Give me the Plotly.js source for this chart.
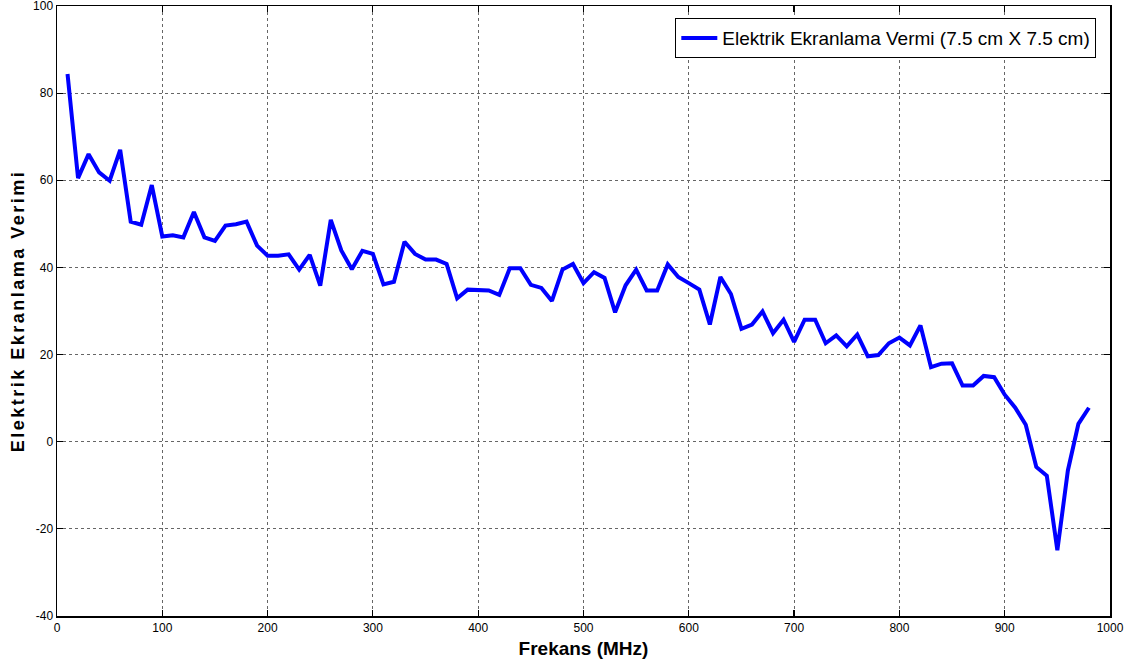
<!DOCTYPE html>
<html>
<head>
<meta charset="utf-8">
<script src="https://cdn.plot.ly/plotly-3.0.1.min.js"></script>
<style>
  html, body { margin: 0; padding: 0; background: #fff; }
  #chart { width: 1143px; height: 671px; }
  /* widen the vertical axis title */
  #chart .ytitle { letter-spacing: 2.5px; }
</style>
</head>
<body>
<div id="chart"></div>
<script>
// Frequency sweep (MHz) and measured electric shielding effectiveness (dB)
const frequency = [
  10, 20, 30, 40, 50, 60, 70, 80, 90, 100,
  110, 120, 130, 140, 150, 160, 170, 180, 190, 200,
  210, 220, 230, 240, 250, 260, 270, 280, 290, 300,
  310, 320, 330, 340, 350, 360, 370, 380, 390, 400,
  410, 420, 430, 440, 450, 460, 470, 480, 490, 500,
  510, 520, 530, 540, 550, 560, 570, 580, 590, 600,
  610, 620, 630, 640, 650, 660, 670, 680, 690, 700,
  710, 720, 730, 740, 750, 760, 770, 780, 790, 800,
  810, 820, 830, 840, 850, 860, 870, 880, 890, 900,
  910, 920, 930, 940, 950, 960, 970, 980
];
const shielding = [
  84.4, 60.5, 66.0, 61.8, 59.9, 67.0, 50.5, 49.8, 58.9, 47.1,
  47.4, 46.9, 52.7, 46.9, 46.1, 49.6, 49.9, 50.5, 45.0, 42.7,
  42.7, 43.0, 39.5, 42.9, 35.8, 50.9, 43.9, 39.6, 43.8, 43.1,
  36.1, 36.7, 45.9, 43.1, 41.8, 41.8, 40.8, 32.9, 34.9, 34.7,
  34.7, 33.7, 39.8, 39.8, 36.0, 35.3, 32.3, 39.5, 40.8, 36.4,
  38.9, 37.6, 29.7, 35.9, 39.5, 34.7, 34.7, 40.7, 37.8, 36.4,
  34.9, 26.9, 37.8, 33.9, 25.9, 26.9, 29.9, 24.9, 28.0, 22.9,
  28.0, 28.0, 22.6, 24.4, 21.9, 24.6, 19.6, 19.9, 22.6, 23.9,
  22.1, 26.7, 17.1, 17.9, 18.0, 12.9, 12.9, 15.1, 14.8, 10.8,
  7.8, 3.9, -5.8, -7.8, -24.9, -6.6, 4.1, 7.8
];
const seriesName = 'Elektrik Ekranlama Vermi (7.5 cm X 7.5 cm)';
const xTicks = [0, 100, 200, 300, 400, 500, 600, 700, 800, 900, 1000];
const yTicks = [-40, -20, 0, 20, 40, 60, 80, 100];

const axisCommon = {
  showline: true,
  linecolor: '#000',
  linewidth: 1.5,
  mirror: 'ticks',
  ticks: 'inside',
  ticklen: 6,
  tickwidth: 1.2,
  tickcolor: '#000',
  showgrid: true,
  gridcolor: '#666',
  griddash: 'dot',
  gridwidth: 1,
  zeroline: false,
  ticklabeloverflow: 'allow',
  tickfont: { family: 'Liberation Sans, Arial, sans-serif', size: 12, color: '#000' }
};

const trace = {
  x: frequency,
  y: shielding,
  type: 'scatter',
  mode: 'lines',
  name: seriesName,
  line: { color: '#0000ff', width: 4 }
};

const layout = {
  width: 1143,
  height: 671,
  margin: { l: 57, r: 33, t: 6, b: 55 },
  paper_bgcolor: '#fff',
  plot_bgcolor: '#fff',
  showlegend: true,
  legend: {
    x: 0.987, y: 0.98, xanchor: 'right', yanchor: 'top',
    bgcolor: '#fff', bordercolor: '#000', borderwidth: 1,
    font: { family: 'Liberation Sans, Arial, sans-serif', size: 19, color: '#000' },
    itemwidth: 36
  },
  xaxis: Object.assign({}, axisCommon, {
    range: [0, 1000],
    tickvals: xTicks,
    ticktext: xTicks.map(String),
    title: { text: '<b>Frekans (MHz)</b>', standoff: 8,
      font: { family: 'Liberation Sans, Arial, sans-serif', size: 19, color: '#000' } }
  }),
  yaxis: Object.assign({}, axisCommon, {
    range: [-40, 100],
    tickvals: yTicks,
    ticktext: yTicks.map(String),
    title: { text: '<b>Elektrik Ekranlama Verimi</b>', standoff: 4,
      font: { family: 'Liberation Sans, Arial, sans-serif', size: 18, color: '#000' } }
  })
};

Plotly.newPlot('chart', [trace], layout, { displayModeBar: false, staticPlot: true });
</script>
</body>
</html>
